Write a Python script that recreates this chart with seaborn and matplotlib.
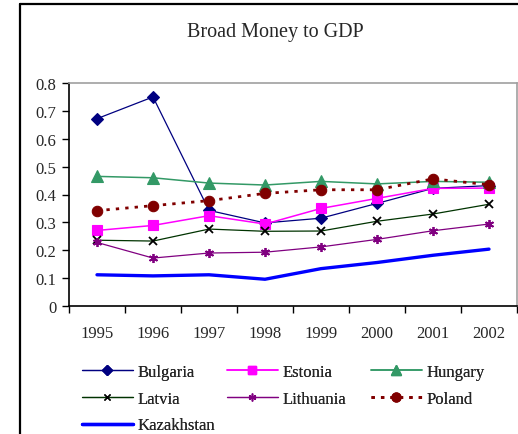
import matplotlib
matplotlib.use("Agg")
import matplotlib.pyplot as plt
import seaborn as sns
import pandas as pd
from matplotlib.lines import Line2D

years = [1995, 1996, 1997, 1998, 1999, 2000, 2001, 2002]
bulgaria = [0.672, 0.750, 0.343, 0.298, 0.315, 0.368, 0.422, 0.432]
estonia = [0.271, 0.289, 0.324, 0.294, 0.350, 0.386, 0.422, 0.423]
hungary = [0.465, 0.460, 0.441, 0.434, 0.447, 0.438, 0.447, 0.444]
latvia = [0.236, 0.233, 0.276, 0.268, 0.269, 0.304, 0.330, 0.365]
lithuania = [0.228, 0.172, 0.190, 0.193, 0.212, 0.239, 0.270, 0.294]
poland = [0.342, 0.360, 0.378, 0.404, 0.417, 0.417, 0.456, 0.435]
kazakhstan = [0.112, 0.108, 0.112, 0.096, 0.134, 0.156, 0.182, 0.204]
yticks = [0, 0.1, 0.2, 0.3, 0.4, 0.5, 0.6, 0.7, 0.8]
title = "Broad Money to GDP"

series = {
    "Bulgaria": bulgaria, "Estonia": estonia, "Hungary": hungary,
    "Latvia": latvia, "Lithuania": lithuania, "Poland": poland,
    "Kazakhstan": kazakhstan,
}
rows = []
for name, vals in series.items():
    for y, v in zip(years, vals):
        rows.append({"country": name, "year": y, "value": v})
df = pd.DataFrame(rows)

styles = {
    "Bulgaria": dict(color="#000080", marker="D", ms=6, lw=0.9, ls="-", mec="#000080", mfc="#000080"),
    "Estonia": dict(color="#FF00FF", marker="s", ms=7.5, lw=1.1, ls="-", mec="#FF00FF", mfc="#FF00FF"),
    "Hungary": dict(color="#339966", marker="^", ms=8, lw=1.1, ls="-", mec="#339966", mfc="#339966"),
    "Latvia": dict(color="#003300", marker="x", ms=5.5, lw=0.9, ls="-", mec="black", mfc="black"),
    "Lithuania": dict(color="#800080", marker=(6, 2, 0), ms=6.5, lw=0.9, ls="-", mec="#800080", mfc="#800080"),
    "Poland": dict(color="#800000", marker="o", ms=7.5, lw=2.0, ls=(0, (1.2, 2.2)), mec="#800000", mfc="#800000"),
    "Kazakhstan": dict(color="#0000FF", marker=None, ms=0, lw=2.4, ls="-", mec="#0000FF", mfc="#0000FF"),
}

sns.set_style("white")
plt.rcParams["font.family"] = ["Liberation Serif", "DejaVu Serif"]

fig = plt.figure(figsize=(5.18, 4.35), dpi=100)
ax = fig.add_axes([69 / 518, 1 - 307 / 435, (517 - 69) / 518, (307 - 84) / 435])

for name in series:
    st = styles[name]
    sub = df[df["country"] == name]
    sns.lineplot(data=sub, x="year", y="value", ax=ax, color=st["color"],
                 linewidth=st["lw"], linestyle=st["ls"], marker=st["marker"],
                 markersize=st["ms"], markeredgecolor=st["mec"], markerfacecolor=st["mfc"],
                 markeredgewidth=1.3 if name in ("Latvia", "Lithuania") else 0.8,
                 label=name, legend=False, errorbar=None)

ax.set_xlim(1994.5, 2002.5)
ax.set_ylim(0, 0.8)
ax.set_xticks([y - 0.5 for y in years] + [years[-1] + 0.5])
ax.set_xticklabels([])
ax.set_xticks(years, minor=True)
ax.set_xticklabels([str(y) for y in years], minor=True)
ax.set_yticks(yticks)
ax.set_yticklabels(["0"] + [f"{v:.1f}" for v in yticks[1:]])
ax.tick_params(axis="x", which="major", direction="out", length=5, width=1, color="black", bottom=True)
ax.tick_params(axis="x", which="minor", length=0, pad=13.5, labelsize=12, bottom=True)
ax.tick_params(axis="y", direction="out", length=5, width=1, color="black", pad=4, labelsize=12, left=True)
ax.set_xlabel("")
ax.set_ylabel("")
for s in ("left", "bottom"):
    ax.spines[s].set_color("black")
    ax.spines[s].set_linewidth(1.2)
for s in ("top", "right"):
    ax.spines[s].set_color("#A0A0A0")
    ax.spines[s].set_linewidth(1.2)

fig.text(275 / 518, 1 - 33 / 435, title, ha="center", va="center", fontsize=14.5)

# outer chart frame
fig.add_artist(Line2D([20 / 518, 20 / 518], [0, 1 - 5 / 435], transform=fig.transFigure, color="black", lw=1.6))
fig.add_artist(Line2D([20 / 518, 1], [1 - 5 / 435, 1 - 5 / 435], transform=fig.transFigure, color="black", lw=1.6))

def handle(name):
    st = styles[name]
    return Line2D([], [], color=st["color"], lw=st["lw"], ls=st["ls"], marker=st["marker"],
                  markersize=st["ms"] * 0.85, markeredgecolor=st["mec"], markerfacecolor=st["mfc"])

columns = [(["Bulgaria", "Latvia", "Kazakhstan"], 82),
           (["Estonia", "Lithuania"], 227),
           (["Hungary", "Poland"], 371)]
for names, x0 in columns:
    leg = fig.legend([handle(n) for n in names], names, loc="upper left",
                     bbox_to_anchor=(x0 / 518, 1 - 365 / 435), frameon=False,
                     fontsize=12, handlelength=3.05, handletextpad=0.3,
                     labelspacing=0.64, borderpad=0, borderaxespad=0, numpoints=1)
    fig.add_artist(leg)

fig.savefig("out.png", dpi=100)
